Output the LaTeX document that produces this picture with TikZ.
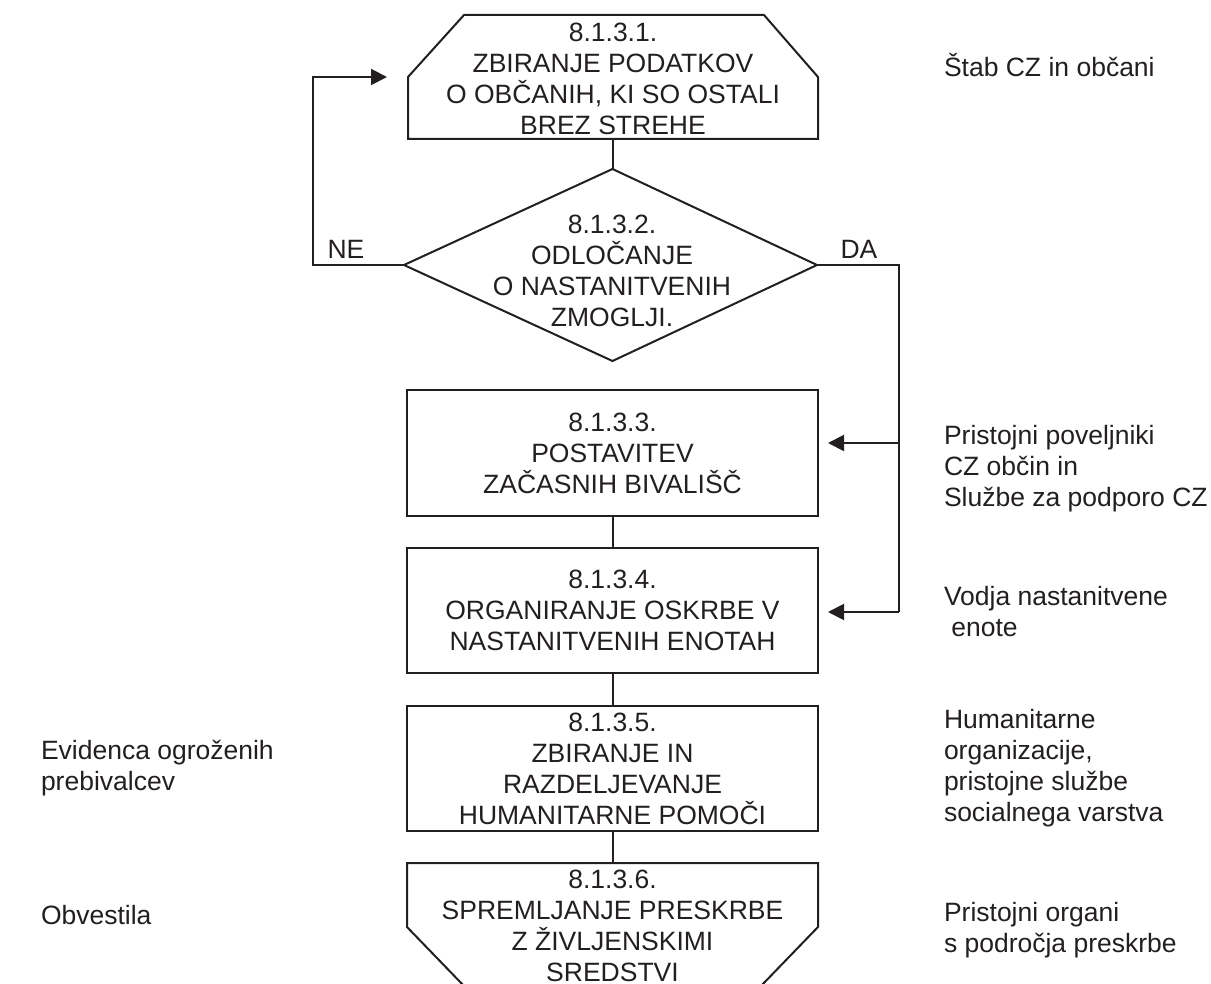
\documentclass[tikz,border=0pt]{standalone}
\usepackage{fontspec}
\setmainfont{Liberation Sans}
\usetikzlibrary{arrows.meta}
\definecolor{ink}{HTML}{231F20}
\begin{document}
\begin{tikzpicture}[x=1pt,y=-1pt, line width=2pt, draw=ink, text=ink,
  lbl/.style={font=\fontsize{26.5}{31}\selectfont, align=center, inner sep=0pt},
  side/.style={font=\fontsize{26.5}{31}\selectfont, align=left, anchor=west, inner sep=0pt},
  boxnode/.style={draw, minimum width=411pt, minimum height=126pt, inner sep=0pt, lbl},
  arr/.style={-{Triangle[length=16pt,width=16pt]}},
  yn/.style={font=\fontsize{26.5}{31}\selectfont, inner sep=0pt}]
\useasboundingbox (0,0) rectangle (1211,984);

% top shape (8.1.3.1)
\draw (408,139) -- (408,77) -- (464,15) -- (764,15) -- (818,77) -- (818,139) -- cycle;
\node[lbl] (n1) at (613,79) {8.1.3.1.\\ZBIRANJE PODATKOV\\O OBČANIH, KI SO OSTALI\\BREZ STREHE};
\coordinate (n1b) at (612.5,139);
\coordinate (n1tip) at (387,77);

% decision diamond (8.1.3.2)
\coordinate (dtop) at (612.5,169);
\coordinate (dleft) at (404,265);
\coordinate (dright) at (817,265);
\coordinate (dbot) at (612.5,361);
\draw (dtop) -- (dright) -- (dbot) -- (dleft) -- cycle;
\node[lbl] (n2) at (612,271) {8.1.3.2.\\ODLOČANJE\\O NASTANITVENIH\\ZMOGLJI.};

% boxes
\node[boxnode] (b3) at (612.5,453) {8.1.3.3.\\POSTAVITEV\\ZAČASNIH BIVALIŠČ};
\node[boxnode, minimum height=125pt] (b4) at (612.5,610.5) {8.1.3.4.\\ORGANIRANJE OSKRBE V\\NASTANITVENIH ENOTAH};
\node[boxnode, minimum height=125pt] (b5) at (612.5,768.5) {8.1.3.5.\\ZBIRANJE IN\\RAZDELJEVANJE\\HUMANITARNE POMOČI};

% bottom shape (8.1.3.6)
\draw (465,987) -- (407,927) -- (407,863) -- (818,863) -- (818,927) -- (760,987);
\coordinate (b6top) at (612.5,863);
\node[lbl] (n6) at (612.5,926) {8.1.3.6.\\SPREMLJANJE PRESKRBE\\Z ŽIVLJENSKIMI\\SREDSTVI};

% connectors
\draw (n1b) -- (dtop);
\draw (b3.south) -- (b4.north);
\draw (b4.south) -- (b5.north);
\draw (b5.south) -- (b6top);

% NE loop
\coordinate (neC) at (313,77);
\draw[arr] (dleft) -| (neC) -- (n1tip);
\node[yn] (ne) at (346,249) {NE};

% DA branch
\coordinate (c1) at (899,443);
\coordinate (c2) at (899,612);
\coordinate (a3) at (828,443);
\coordinate (a4) at (828,612);
\draw (dright) -| (c2);
\draw[arr] (c1) -- (a3);
\draw[arr] (c2) -- (a4);
\node[yn] (da) at (859,249) {DA};

% side texts
\node[side] (r1) at (943,65) {Štab CZ in občani};
\node[side] (r2) at (943,469) {Pristojni poveljniki\\CZ občin in\\Službe za podporo CZ};
\node[side] (r3) at (943,611.5) {Vodja nastanitvene\\\hspace*{0.28em}enote};
\node[side] (r4) at (943,768) {Humanitarne\\organizacije,\\pristojne službe\\socialnega varstva};
\node[side] (r5) at (943,930) {Pristojni organi\\s področja preskrbe};
\node[side] (l1) at (40,768) {Evidenca ogroženih\\prebivalcev};
\node[side] (l2) at (40,915) {Obvestila};
\end{tikzpicture}
\end{document}
